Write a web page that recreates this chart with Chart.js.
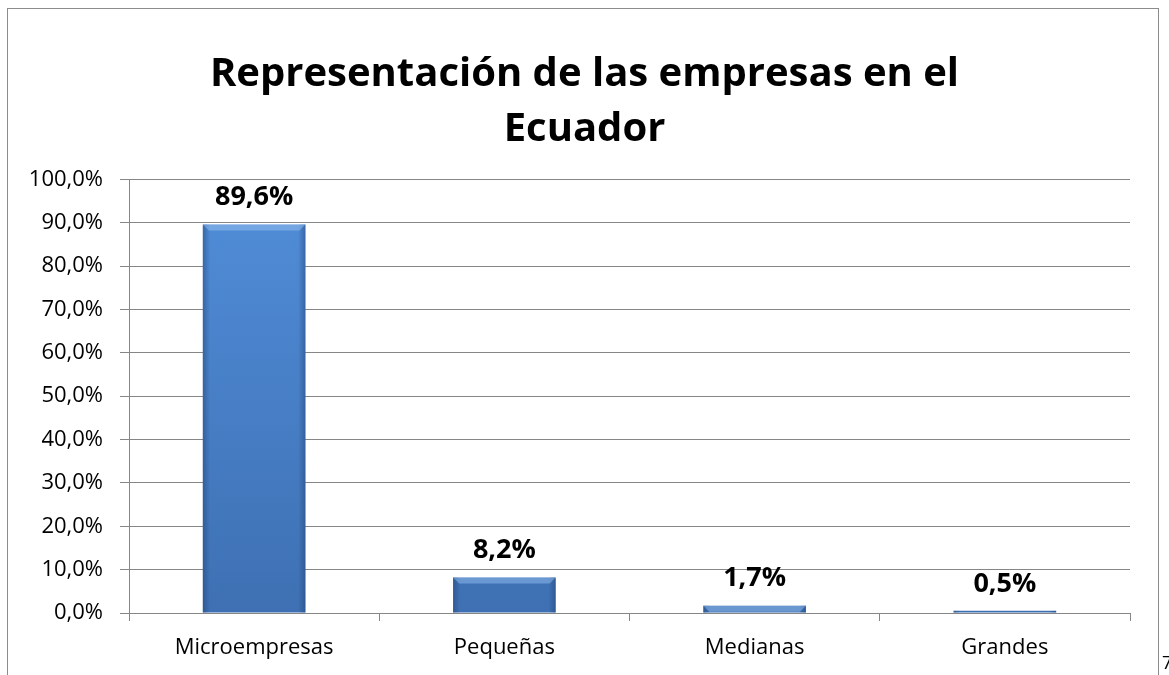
<!DOCTYPE html>
<html>
<head>
<meta charset="utf-8">
<script src="https://cdn.jsdelivr.net/npm/chart.js@4"></script>
<style>
html, body { margin: 0; padding: 0; background: #fff; overflow: hidden; }
#marco { position: absolute; left: 7px; top: 8px; width: 1150px; height: 700px; border: 1px solid #8c8c8c; }
#grafico { position: absolute; left: 0; top: 0; }
#pagina { position: absolute; left: 1162px; top: 650px; font-family: "Open Sans", sans-serif; font-size: 18px; color: #000; }
</style>
</head>
<body>
<div id="marco"></div>
<canvas id="grafico" width="1169" height="675"></canvas>
<span id="pagina">7</span>
<script>
// datos del grafico
var categorias = ['Microempresas', 'Pequeñas', 'Medianas', 'Grandes'];
var porcentajes = [89.6, 8.2, 1.7, 0.5];
var titulo = ['Representación de las empresas en el', 'Ecuador'];
var ejeMin = 0;
var ejeMax = 100;
var ejePaso = 10;

var fuente = '"Open Sans", Lato, sans-serif';

function formato(v) {
    return v.toFixed(1).replace('.', ',') + '%';
}

// relieve de las barras y etiquetas encima
var etiquetas = {
    id: 'etiquetas',
    afterDatasetsDraw: function(chart) {
        var ctx = chart.ctx;
        var meta = chart.getDatasetMeta(0);
        ctx.save();
        meta.data.forEach(function(bar, i) {
            var izq = bar.x - bar.width / 2;
            var der = bar.x + bar.width / 2;
            var alto = bar.base - bar.y;
            // bordes oscuros a los lados
            var g = ctx.createLinearGradient(izq, 0, der, 0);
            g.addColorStop(0, 'rgba(30,60,110,0.45)');
            g.addColorStop(0.07, 'rgba(30,60,110,0)');
            g.addColorStop(0.93, 'rgba(30,60,110,0)');
            g.addColorStop(1, 'rgba(30,60,110,0.45)');
            ctx.fillStyle = g;
            ctx.fillRect(izq, bar.y, bar.width, alto);
            // brillo arriba
            if (alto > 6) {
                ctx.fillStyle = 'rgba(160,200,245,0.45)';
                ctx.beginPath();
                ctx.moveTo(izq, bar.y);
                ctx.lineTo(der, bar.y);
                ctx.lineTo(der - 6, bar.y + 6);
                ctx.lineTo(izq + 6, bar.y + 6);
                ctx.closePath();
                ctx.fill();
            }
            ctx.fillStyle = '#000';
            ctx.font = 'bold 27px ' + fuente;
            ctx.textAlign = 'center';
            ctx.textBaseline = 'middle';
            ctx.fillText(formato(porcentajes[i]), bar.x, bar.y - 27);
        });
        ctx.restore();
    }
};

var ctx = document.getElementById('grafico').getContext('2d');

var miGrafico = new Chart(ctx, {
    type: 'bar',
    data: {
        labels: categorias,
        datasets: [{
            data: porcentajes,
            backgroundColor: function(c) {
                var area = c.chart.chartArea;
                if (!area) return '#4a86cf';
                var g = c.chart.ctx.createLinearGradient(0, area.top, 0, area.bottom);
                g.addColorStop(0, '#518ed9');
                g.addColorStop(1, '#3e70b3');
                return g;
            },
            borderWidth: 0,
            categoryPercentage: 1,
            barPercentage: 0.41
        }]
    },
    options: {
        responsive: false,
        animation: false,
        devicePixelRatio: 1,
        layout: { padding: 0 },
        plugins: {
            legend: { display: false },
            tooltip: { enabled: false },
            title: {
                display: true,
                text: titulo,
                color: '#000',
                font: { family: fuente, size: 40, weight: 'bold', lineHeight: 1.38 },
                padding: { top: 47, bottom: 22 }
            }
        },
        scales: {
            x: {
                afterFit: function(s) { s.height = 62; },
                grid: {
                    offset: true,
                    drawOnChartArea: false,
                    drawTicks: true,
                    tickLength: 8,
                    color: '#868686'
                },
                border: { display: false },
                ticks: {
                    color: '#000',
                    padding: 14,
                    font: { family: fuente, size: 22 }
                }
            },
            y: {
                min: ejeMin,
                max: ejeMax,
                afterFit: function(s) { s.width = 129; },
                grid: {
                    color: '#868686',
                    tickLength: 9
                },
                border: { display: true, color: '#868686' },
                ticks: {
                    stepSize: ejePaso,
                    color: '#000',
                    padding: 17,
                    font: { family: fuente, size: 22 },
                    callback: function(v) { return formato(v); }
                }
            },
            // eje vacio a la derecha para dejar el margen
            margen: {
                type: 'linear',
                position: 'right',
                afterFit: function(s) { s.width = 39; },
                grid: { display: false },
                border: { display: false },
                ticks: { display: false }
            }
        }
    },
    plugins: [etiquetas]
});
</script>
</body>
</html>
